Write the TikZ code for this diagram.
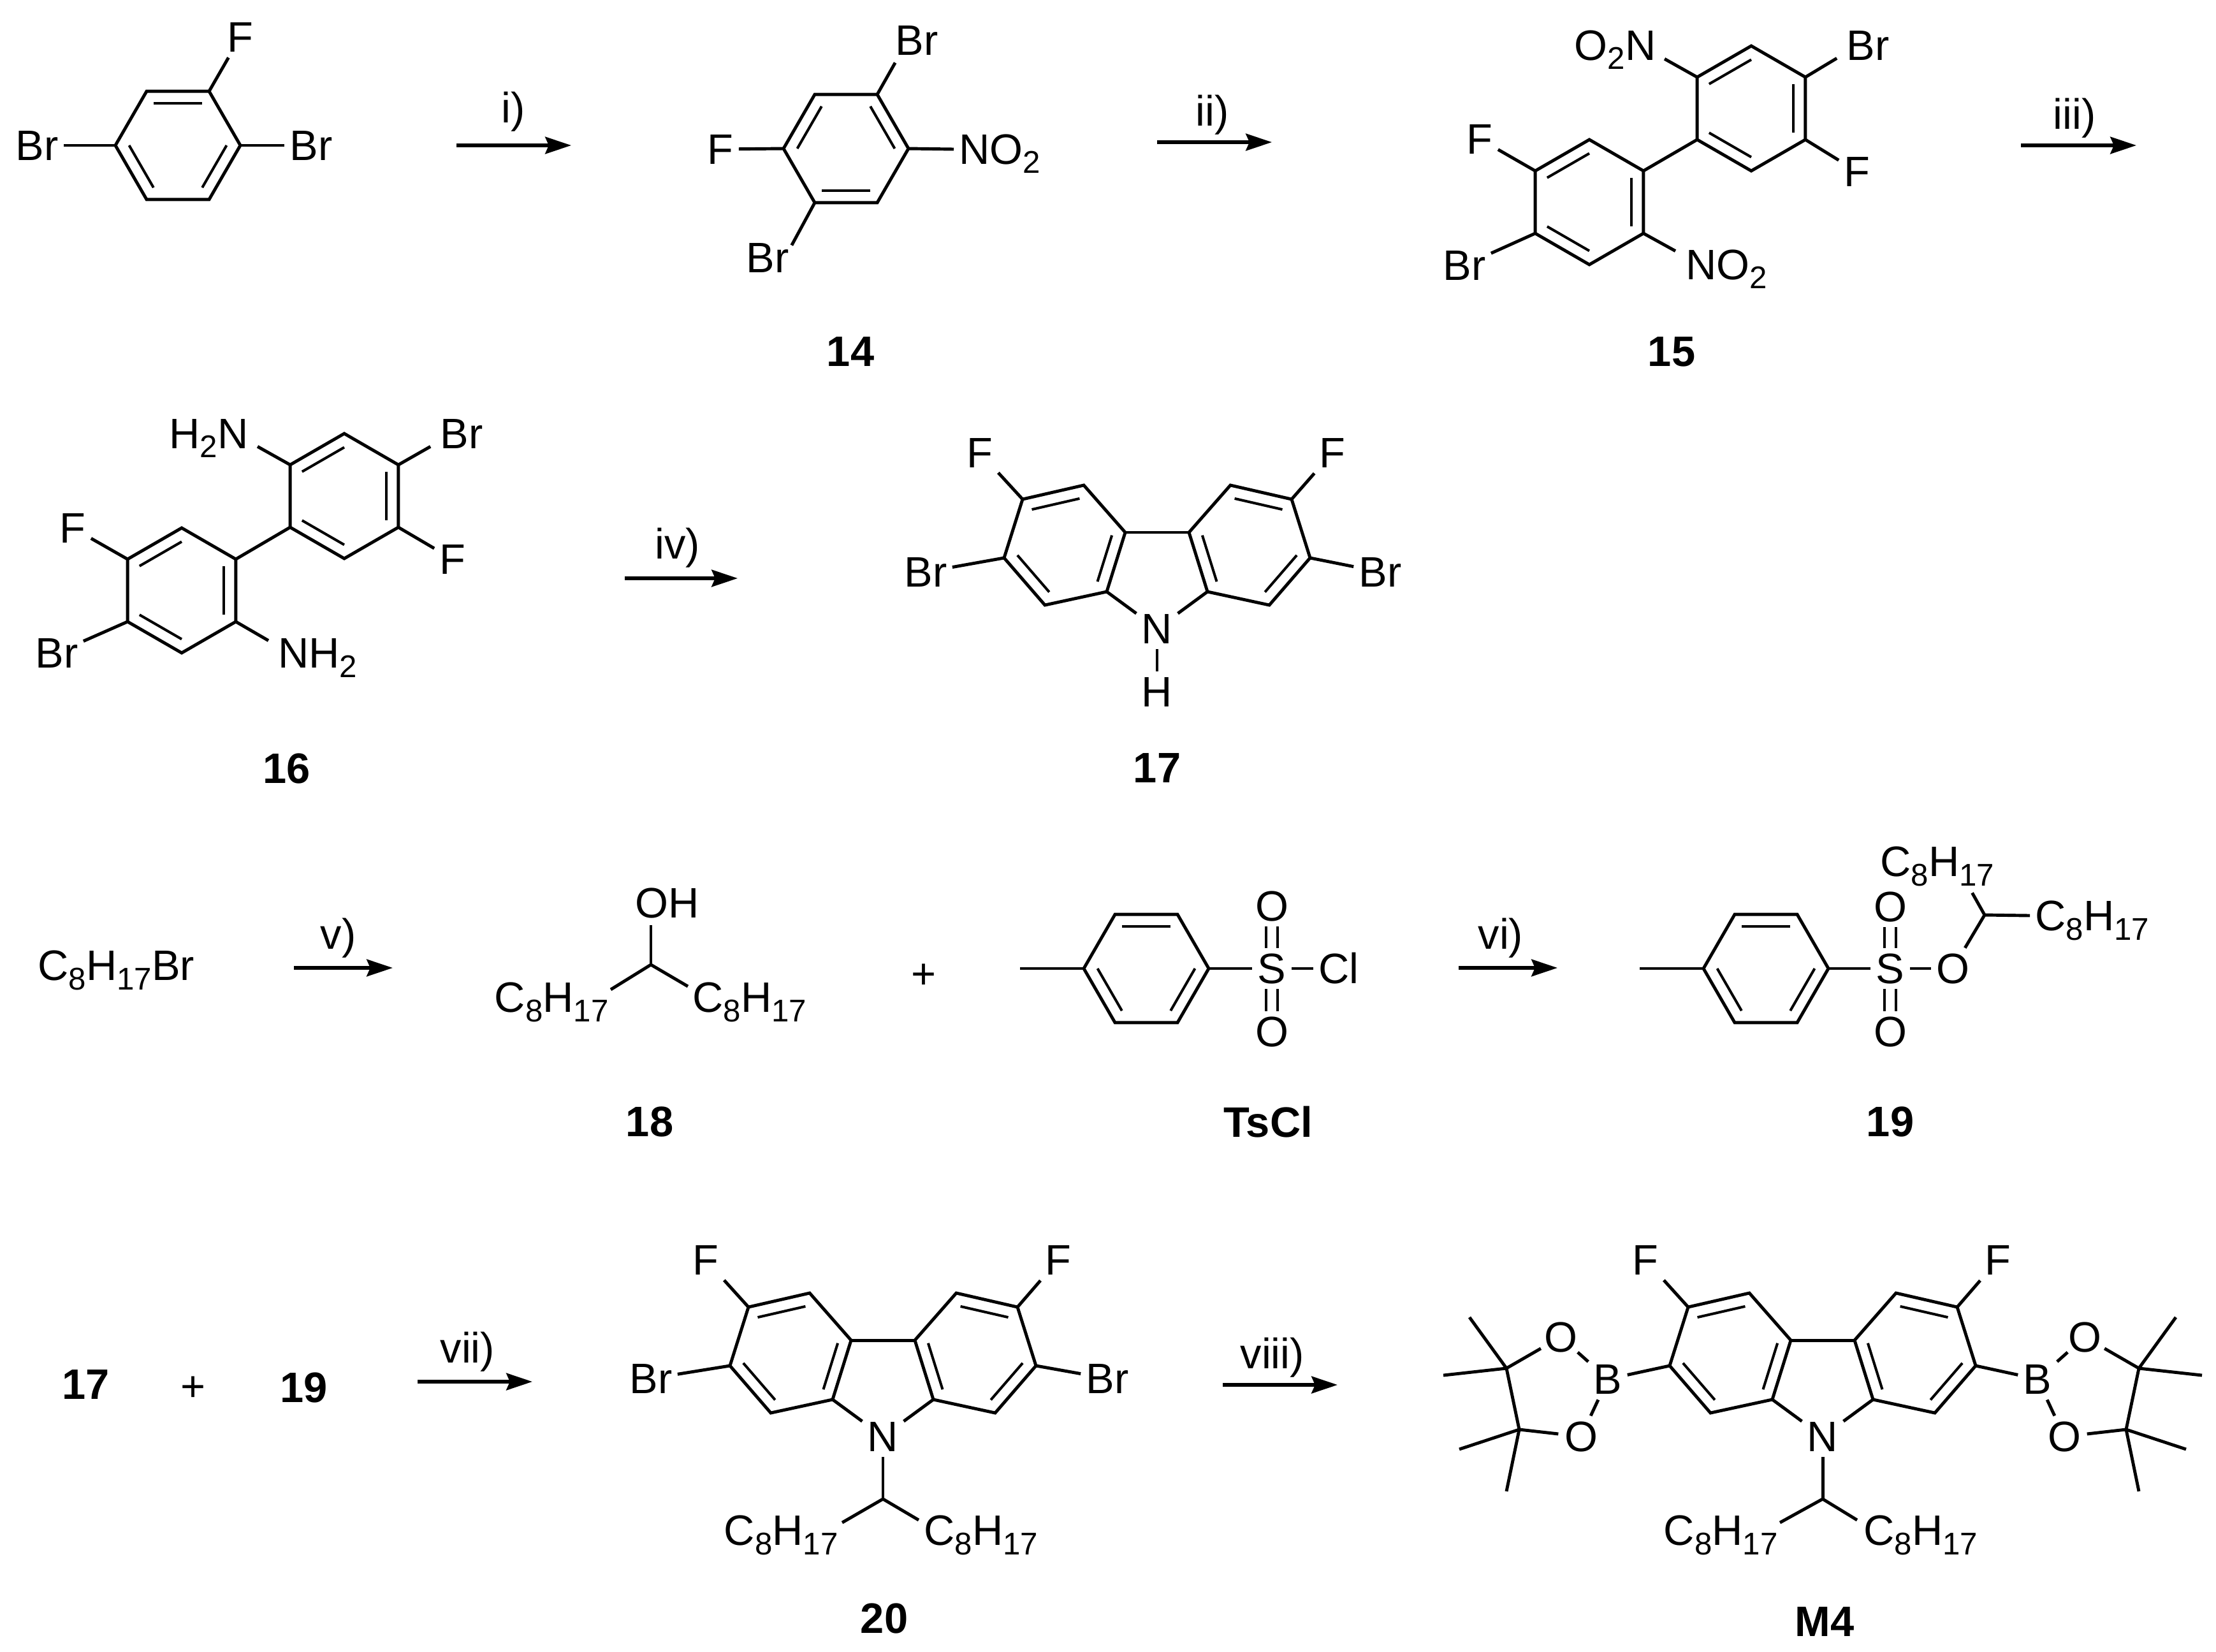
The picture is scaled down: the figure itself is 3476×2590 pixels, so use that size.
\documentclass[tikz,border=0pt]{standalone}
\usepackage{fontspec}
\setmainfont{Liberation Sans}
\usetikzlibrary{arrows.meta,calc}

\tikzset{
  bond/.style={line width=1.4pt,line join=miter},
  dbond/.style={line width=1.15pt},
  rxn/.style={line width=1.5pt,-{Stealth[length=11.6pt,width=7.6pt,inset=1.6pt]}},
  atom/.style={font=\fontsize{19}{22}\selectfont,text height=13.6pt,text depth=0pt,inner sep=2.2pt},
  pinO/.style={atom,circle,inner sep=0pt},
  cmpd/.style={atom,font=\fontsize{19}{22}\selectfont\bfseries},
  rlab/.style={font=\fontsize{19}{22}\selectfont,anchor=base west,inner sep=0pt}
}

\newcommand{\ssub}[1]{\raisebox{-4pt}{\fontsize{14}{14}\selectfont #1}}
\newcommand{\octyl}{C\ssub{8}H\ssub{17}}

\newcommand{\hexring}[5]{%
  \coordinate (#1c) at (#2,#3);
  \foreach \k in {0,...,5} \coordinate (#1\k) at ($(#1c)+({#4+60*\k}:98)$);
  \draw[bond] (#10) -- (#11) -- (#12) -- (#13) -- (#14) -- (#15) -- cycle;
  \foreach \p/\q in {#5} \draw[dbond] ($(#1\p)!.22!(#1c)$) -- ($(#1\q)!.22!(#1c)$);
}

\newcommand{\carbazole}[3]{%
  \node[atom] (#1N) at (#2,#3+151) {N};
  \foreach \s/\n in {-1/l,1/r} {
    \coordinate (#1\n0) at ({#2+\s*145},#3+21);
    \coordinate (#1\n1) at ({#2+\s*115},#3-74);
    \coordinate (#1\n2) at ({#2+\s*211},#3-52);
    \coordinate (#1\n3) at ({#2+\s*240},#3+40);
    \coordinate (#1\n4) at ({#2+\s*176},#3+114);
    \coordinate (#1\n5) at ({#2+\s*79},#3+93);
    \coordinate (#1\n6) at ({#2+\s*50},#3);
    \draw[bond] (#1\n6) -- (#1\n1) -- (#1\n2) -- (#1\n3) -- (#1\n4) -- (#1\n5) -- cycle;
    \foreach \p/\q in {1/2,3/4,5/6} \draw[dbond] ($(#1\n\p)!.22!(#1\n0)$) -- ($(#1\n\q)!.22!(#1\n0)$);
    \draw[bond] (#1\n5) -- (#1N);
  }
  \draw[bond] (#1l6) -- (#1r6);
}

\newcommand{\rxnstep}[7]{%
  \coordinate (#1s) at (#2,#4);
  \coordinate (#1e) at (#3,#4);
  \draw[rxn] (#1s) -- (#1e);
  \node[rlab] (#1t) at (#6,#7) {#5};
}

\newcommand{\sodouble}[2]{%
  \draw[dbond] ([xshift=-2.6pt]#1.north) -- ([xshift=-2.6pt]#2.south);
  \draw[dbond] ([xshift=2.6pt]#1.north) -- ([xshift=2.6pt]#2.south);
}

\begin{document}
\begin{tikzpicture}[x=0.01cm,y=-0.01cm]
  \useasboundingbox (0,0) rectangle (3476,2590);

  % first row
  \hexring{a}{279}{228}{0}{4/5,2/3,0/1}
  \node[atom] (aF) at (377,58) {F};
  \node[atom] (aBrl) at (58,228) {Br};
  \node[atom] (aBrr) at (488,228) {Br};
  \draw[bond] (a5) -- (aF);
  \draw[bond] (a3) -- (aBrl);
  \draw[bond] (a0) -- (aBrr);
  \rxnstep{ri}{716}{896}{228}{i)}{786}{192}

  \hexring{b}{1327}{233}{0}{3/4,5/0,1/2}
  \node[atom] (bBrt) at (1438,63) {Br};
  \node[atom] (bBrb) at (1204,404) {Br};
  \node[atom] (bF) at (1130,234) {F};
  \node[atom,anchor=west] (bNO) at (1496,234) {NO\ssub{2}};
  \draw[bond] (b5) -- ($(bBrt.south west)+(8,3)$);
  \draw[bond] (b2) -- ($(bBrb.north east)+(-4,13)$);
  \draw[bond] (b3) -- (bF);
  \draw[bond] (b0) -- (bNO.west);
  \node[cmpd] (c14) at (1334,551) {14};
  \rxnstep{rii}{1815}{1995}{223}{ii)}{1875}{197}

  \hexring{c}{2747}{170}{30}{3/4,5/0,1/2}
  \hexring{d}{2493}{317}{30}{3/4,5/0,1/2}
  \draw[bond] (c2) -- (d5);
  \node[atom,anchor=east] (cNO) at (2606,71) {O\ssub{2}N};
  \node[atom] (cBr) at (2930,71) {Br};
  \node[atom] (cF) at (2913,269) {F};
  \node[atom] (dF) at (2321,218) {F};
  \node[atom] (dBr) at (2297,416) {Br};
  \node[atom,anchor=west] (dNO) at (2636,415) {NO\ssub{2}};
  \draw[bond] (c3) -- ($(cNO.south east)+(5,-11)$);
  \draw[bond] (c5) -- ($(cBr.south west)+(-7,-12)$);
  \draw[bond] (c0) -- (cF);
  \draw[bond] (d3) -- (dF);
  \draw[bond] (d2) -- (dBr);
  \draw[bond] (d0) -- ($(dNO.north west)+(-8,11)$);
  \node[cmpd] (c15) at (2622,551) {15};
  \rxnstep{riii}{3170}{3351}{228}{iii)}{3220}{202}

  % second row
  \hexring{e}{540}{778}{30}{3/4,5/0,1/2}
  \hexring{f}{285}{926}{30}{3/4,5/0,1/2}
  \draw[bond] (e2) -- (f5);
  \node[atom,anchor=east] (eNH) at (398,680) {H\ssub{2}N};
  \node[atom] (eBr) at (724,680) {Br};
  \node[atom] (eF) at (710,877) {F};
  \node[atom] (fF) at (114,828) {F};
  \node[atom] (fBr) at (89,1024) {Br};
  \node[atom,anchor=west] (fNH) at (428,1024) {NH\ssub{2}};
  \draw[bond] (e3) -- ($(eNH.south east)+(6,-12)$);
  \draw[bond] (e5) -- ($(eBr.south west)+(-7,-12)$);
  \draw[bond] (e0) -- (eF);
  \draw[bond] (f3) -- (fF);
  \draw[bond] (f2) -- (fBr);
  \draw[bond] (f0) -- ($(fNH.north west)+(-7,13)$);
  \node[cmpd] (c16) at (450,1205) {16};
  \rxnstep{riv}{980}{1157}{907}{iv)}{1027}{876}

  \carbazole{s}{1815}{835}
  \node[atom] (sFl) at (1537,710) {F};
  \node[atom] (sFr) at (2090,710) {F};
  \node[atom] (sBrl) at (1452,897) {Br};
  \node[atom] (sBrr) at (2165,897) {Br};
  \node[atom] (sH) at (1815,1085) {H};
  \draw[bond] (sl2) -- (sFl);
  \draw[bond] (sr2) -- (sFr);
  \draw[bond] (sl3) -- (sBrl);
  \draw[bond] (sr3) -- (sBrr);
  \draw[dbond] (sN) -- (sH);
  \node[cmpd] (c17) at (1815,1204) {17};

  % third row
  \node[atom,anchor=west] (bromo) at (51,1514) {\octyl Br};
  \rxnstep{rv}{461}{616}{1518}{v)}{502}{1488}

  \coordinate (ch18) at (1021,1513);
  \node[atom] (oh) at (1047,1416) {OH};
  \node[atom,anchor=east] (oct18l) at (963,1564) {\octyl};
  \node[atom,anchor=west] (oct18r) at (1078,1564) {\octyl};
  \draw[bond] (ch18) -- ($(oh.south)+(-26,3)$);
  \draw[bond] (ch18) -- ($(oct18l.east)+(-5,-12)$);
  \draw[bond] (ch18) -- ($(oct18r.west)+(1,-17)$);
  \node[cmpd] (c18) at (1019,1759) {18};
  \node[atom] (plusa) at (1449,1527) {+};

  \hexring{g}{1798}{1519}{0}{4/5,2/3,0/1}
  \coordinate (gMe) at (1600,1519);
  \node[atom] (gS) at (1995,1519) {S};
  \node[atom] (gCl) at (2100,1519) {Cl};
  \node[atom] (gOt) at (1995,1421) {O};
  \node[atom] (gOb) at (1995,1618) {O};
  \draw[bond] (gMe) -- (g3);
  \draw[bond] (g0) -- (gS);
  \draw[bond] (gS) -- (gCl);
  \sodouble{gS}{gOt}
  \sodouble{gOb}{gS}
  \node[cmpd] (cTs) at (1989,1760) {TsCl};
  \rxnstep{rvi}{2288}{2443}{1518}{vi)}{2318}{1488}

  \hexring{h}{2770}{1519}{0}{4/5,2/3,0/1}
  \coordinate (hMe) at (2572,1519);
  \coordinate (ch19) at (3113,1435);
  \node[atom] (hS) at (2965,1519) {S};
  \node[atom] (hO) at (3063,1519) {O};
  \node[atom] (hOt) at (2965,1422) {O};
  \node[atom] (hOb) at (2965,1618) {O};
  \node[atom,anchor=west] (oct19t) at (2941,1351) {\octyl};
  \node[atom,anchor=west] (oct19r) at (3184,1436) {\octyl};
  \draw[bond] (hMe) -- (h3);
  \draw[bond] (h0) -- (hS);
  \draw[bond] (hS) -- (hO);
  \sodouble{hS}{hOt}
  \sodouble{hOb}{hS}
  \draw[bond] (hO) -- (ch19);
  \draw[bond] (ch19) -- ($(oct19t.south east)+(-43,17)$);
  \draw[bond] (ch19) -- (oct19r.west);
  \node[cmpd] (c19) at (2965,1759) {19};

  % last row
  \node[cmpd] (c17b) at (135,2171) {17};
  \node[atom] (plusb) at (303,2174) {+};
  \node[cmpd] (c19b) at (477,2176) {19};
  \rxnstep{rvii}{655}{835}{2167}{vii)}{690}{2137}

  \carbazole{t}{1385}{2102}
  \coordinate (ch20) at (1385,2351);
  \node[atom] (tFl) at (1107,1976) {F};
  \node[atom] (tFr) at (1660,1976) {F};
  \node[atom] (tBrl) at (1021,2162) {Br};
  \node[atom] (tBrr) at (1737,2162) {Br};
  \node[atom,anchor=east] (oct20l) at (1323,2400) {\octyl};
  \node[atom,anchor=west] (oct20r) at (1441,2400) {\octyl};
  \draw[bond] (tl2) -- (tFl);
  \draw[bond] (tr2) -- (tFr);
  \draw[bond] (tl3) -- (tBrl);
  \draw[bond] (tr3) -- (tBrr);
  \draw[bond] (tN) -- (ch20);
  \draw[bond] (ch20) -- ($(oct20l.east)+(-2,-12)$);
  \draw[bond] (ch20) -- ($(oct20r.west)+(0,-16)$);
  \node[cmpd] (c20) at (1387,2538) {20};
  \rxnstep{rviii}{1918}{2098}{2172}{viii)}{1945}{2146}

  \carbazole{u}{2859}{2102}
  \coordinate (ch21) at (2859,2351);
  \node[atom] (uFl) at (2581,1976) {F};
  \node[atom] (uFr) at (3134,1976) {F};
  \node[atom,anchor=east] (oct21l) at (2797,2400) {\octyl};
  \node[atom,anchor=west] (oct21r) at (2915,2400) {\octyl};
  \draw[bond] (ul2) -- (uFl);
  \draw[bond] (ur2) -- (uFr);
  \draw[bond] (uN) -- (ch21);
  \draw[bond] (ch21) -- ($(oct21l.east)+(-5,-12)$);
  \draw[bond] (ch21) -- ($(oct21r.west)+(-2,-16)$);
  \foreach \s/\n in {-1/l,1/r} {
    \node[atom] (B\n) at ({2859+\s*337},2163) {B};
    \node[pinO] (Ot\n) at ({2859+\s*411},2097) {O};
    \node[pinO] (Ob\n) at ({2859+\s*379},2253) {O};
    \coordinate (Ct\n) at ({2859+\s*496},2146);
    \coordinate (Cb\n) at ({2859+\s*476},2242);
    \coordinate (Mta\n) at ({2859+\s*554},2066);
    \coordinate (Mtb\n) at ({2859+\s*595},2157);
    \coordinate (Mba\n) at ({2859+\s*570},2273);
    \coordinate (Mbb\n) at ({2859+\s*496},2339);
    \draw[bond] (u\n3) -- (B\n);
    \draw[bond] (B\n) -- (Ot\n);
    \draw[bond] (B\n) -- (Ob\n);
    \draw[bond] (Ot\n) -- (Ct\n);
    \draw[bond] (Ob\n) -- (Cb\n);
    \draw[bond] (Ct\n) -- (Cb\n);
    \draw[bond] (Ct\n) -- (Mta\n);
    \draw[bond] (Ct\n) -- (Mtb\n);
    \draw[bond] (Cb\n) -- (Mba\n);
    \draw[bond] (Cb\n) -- (Mbb\n);
  }
  \node[cmpd] (cM4) at (2862,2543) {M4};
\end{tikzpicture}
\end{document}
